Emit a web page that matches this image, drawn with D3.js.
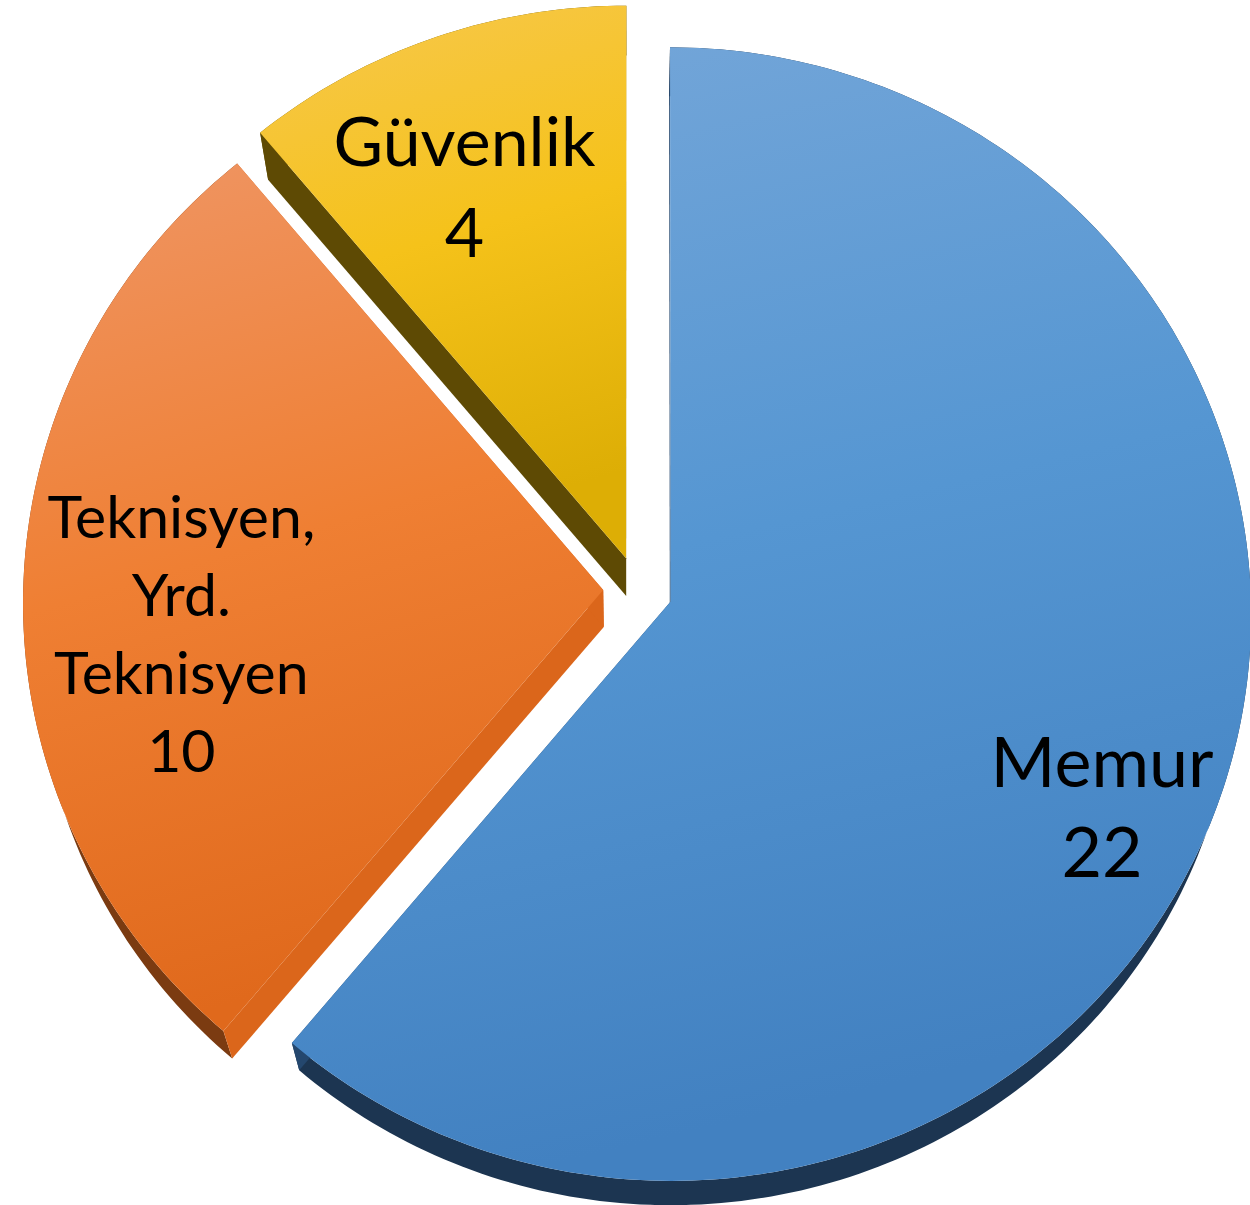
<!DOCTYPE html>
<html>
<head>
<meta charset="utf-8">
<script src="https://cdn.jsdelivr.net/npm/d3@7"></script>
<style>
  body { margin: 0; background: #fff; }
  text { font-family: Lato, "Open Sans", sans-serif; fill: #000; }
</style>
</head>
<body>
<div id="chart-area"></div>
<script>
/*
 *    pie3d.js
 */

// data
const categories = ["Memur", "Teknisyen, Yrd. Teknisyen", "Güvenlik"];
const values = [22, 10, 4];

// look
const topColours = [
    ["#76a7d9", "#5596d2", "#4281c1"],
    ["#ef9665", "#ef7f33", "#e0691c"],
    ["#f7c84e", "#f5c21a", "#ddae05"]
];
const rimColours = ["#1c3551", "#7b3b11", "#6b5400"];
const edgeColours = ["#24476e", "#db661b", "#5e4a04"];
const fontSizes = [70, 59, 68];
const lineHeights = [90, 78, 91];
const labelPolar = [[0.82, 116], [0.73, 264], [0.725, 337]];

const width = 1250;
const height = 1205;
const explode = 0.06;

// simple perspective for the top face, bottom face shrinks toward a far point
const cam = { cx: 638, cy: 590, sx: 580, sy: 566, p: 0.022 };
const vanish = [630, 2308];
const depth = 0.0216;

const project = (u, v) => {
    const w = 1 - cam.p * v;
    return [cam.cx + cam.sx * u / w, cam.cy + cam.sy * v / w];
};
const drop = (pt) => [pt[0] + depth * (vanish[0] - pt[0]), pt[1] + depth * (vanish[1] - pt[1])];

const svg = d3.select("#chart-area")
    .append("svg")
    .attr("width", width)
    .attr("height", height);

const defs = svg.append("defs");
const line = d3.line();

const arcs = d3.pie().sort(null).startAngle(0).endAngle(2 * Math.PI)(values);

const slices = arcs.map((a) => {
    const mid = (a.startAngle + a.endAngle) / 2;
    const ou = explode * Math.sin(mid);
    const ov = -explode * Math.cos(mid);
    const n = Math.ceil((a.endAngle - a.startAngle) / (Math.PI / 180)) + 1;
    const rim = d3.range(n).map((i) => {
        const t = a.startAngle + (a.endAngle - a.startAngle) * i / (n - 1);
        return project(ou + Math.sin(t), ov - Math.cos(t));
    });
    const centre = project(ou, ov);
    return { a: a, i: a.index, mid: mid, ou: ou, ov: ov, rim: rim, centre: centre };
});

// gradients for top faces
slices.forEach((s) => {
    const grad = defs.append("linearGradient")
        .attr("id", "top" + s.i)
        .attr("x1", 0).attr("y1", 0)
        .attr("x2", 0.2).attr("y2", 1);
    topColours[s.i].forEach((c, j) => {
        grad.append("stop").attr("offset", j / 2).attr("stop-color", c);
    });
});

const sides = svg.append("g").attr("class", "sides");
const tops = svg.append("g").attr("class", "tops");
const labels = svg.append("g").attr("class", "labels");

slices.forEach((s) => {
    const rimLow = s.rim.map(drop);
    const cLow = drop(s.centre);
    const first = s.rim[0];
    const last = s.rim[s.rim.length - 1];

    // outer curved side
    sides.append("path")
        .attr("d", line(s.rim.concat(rimLow.slice().reverse())) + "Z")
        .attr("fill", rimColours[s.i]);

    // the two flat radial sides
    [[first, rimLow[0]], [last, rimLow[rimLow.length - 1]]].forEach((e) => {
        sides.append("path")
            .attr("d", line([s.centre, e[0], e[1], cLow]) + "Z")
            .attr("fill", edgeColours[s.i]);
    });

    // top face
    tops.append("path")
        .attr("d", line([s.centre].concat(s.rim)) + "Z")
        .attr("fill", "url(#top" + s.i + ")");
});

// wraps words greedily to a max width
const wrapWords = (text, size, maxW) => {
    const probe = svg.append("text").attr("font-size", size);
    const words = text.split(" ");
    const lines = [];
    let cur = "";
    words.forEach((w) => {
        const test = cur ? cur + " " + w : w;
        probe.text(test);
        if (cur && probe.node().getComputedTextLength() > maxW) {
            lines.push(cur);
            cur = w;
        } else {
            cur = test;
        }
    });
    lines.push(cur);
    probe.remove();
    return lines;
};

slices.forEach((s) => {
    const lp = labelPolar[s.i];
    const ang = lp[1] * Math.PI / 180;
    const pos = project(s.ou + lp[0] * Math.sin(ang), s.ov - lp[0] * Math.cos(ang));
    const fs = fontSizes[s.i];
    const lh = lineHeights[s.i];
    const rows = wrapWords(categories[s.i], fs, 300).concat([String(values[s.i])]);
    const t = labels.append("text")
        .attr("text-anchor", "middle")
        .attr("font-size", fs);
    rows.forEach((r, j) => {
        t.append("tspan")
            .attr("x", pos[0])
            .attr("y", pos[1] + (j - (rows.length - 1) / 2) * lh + 0.36 * fs)
            .text(r);
    });
});
</script>
</body>
</html>
